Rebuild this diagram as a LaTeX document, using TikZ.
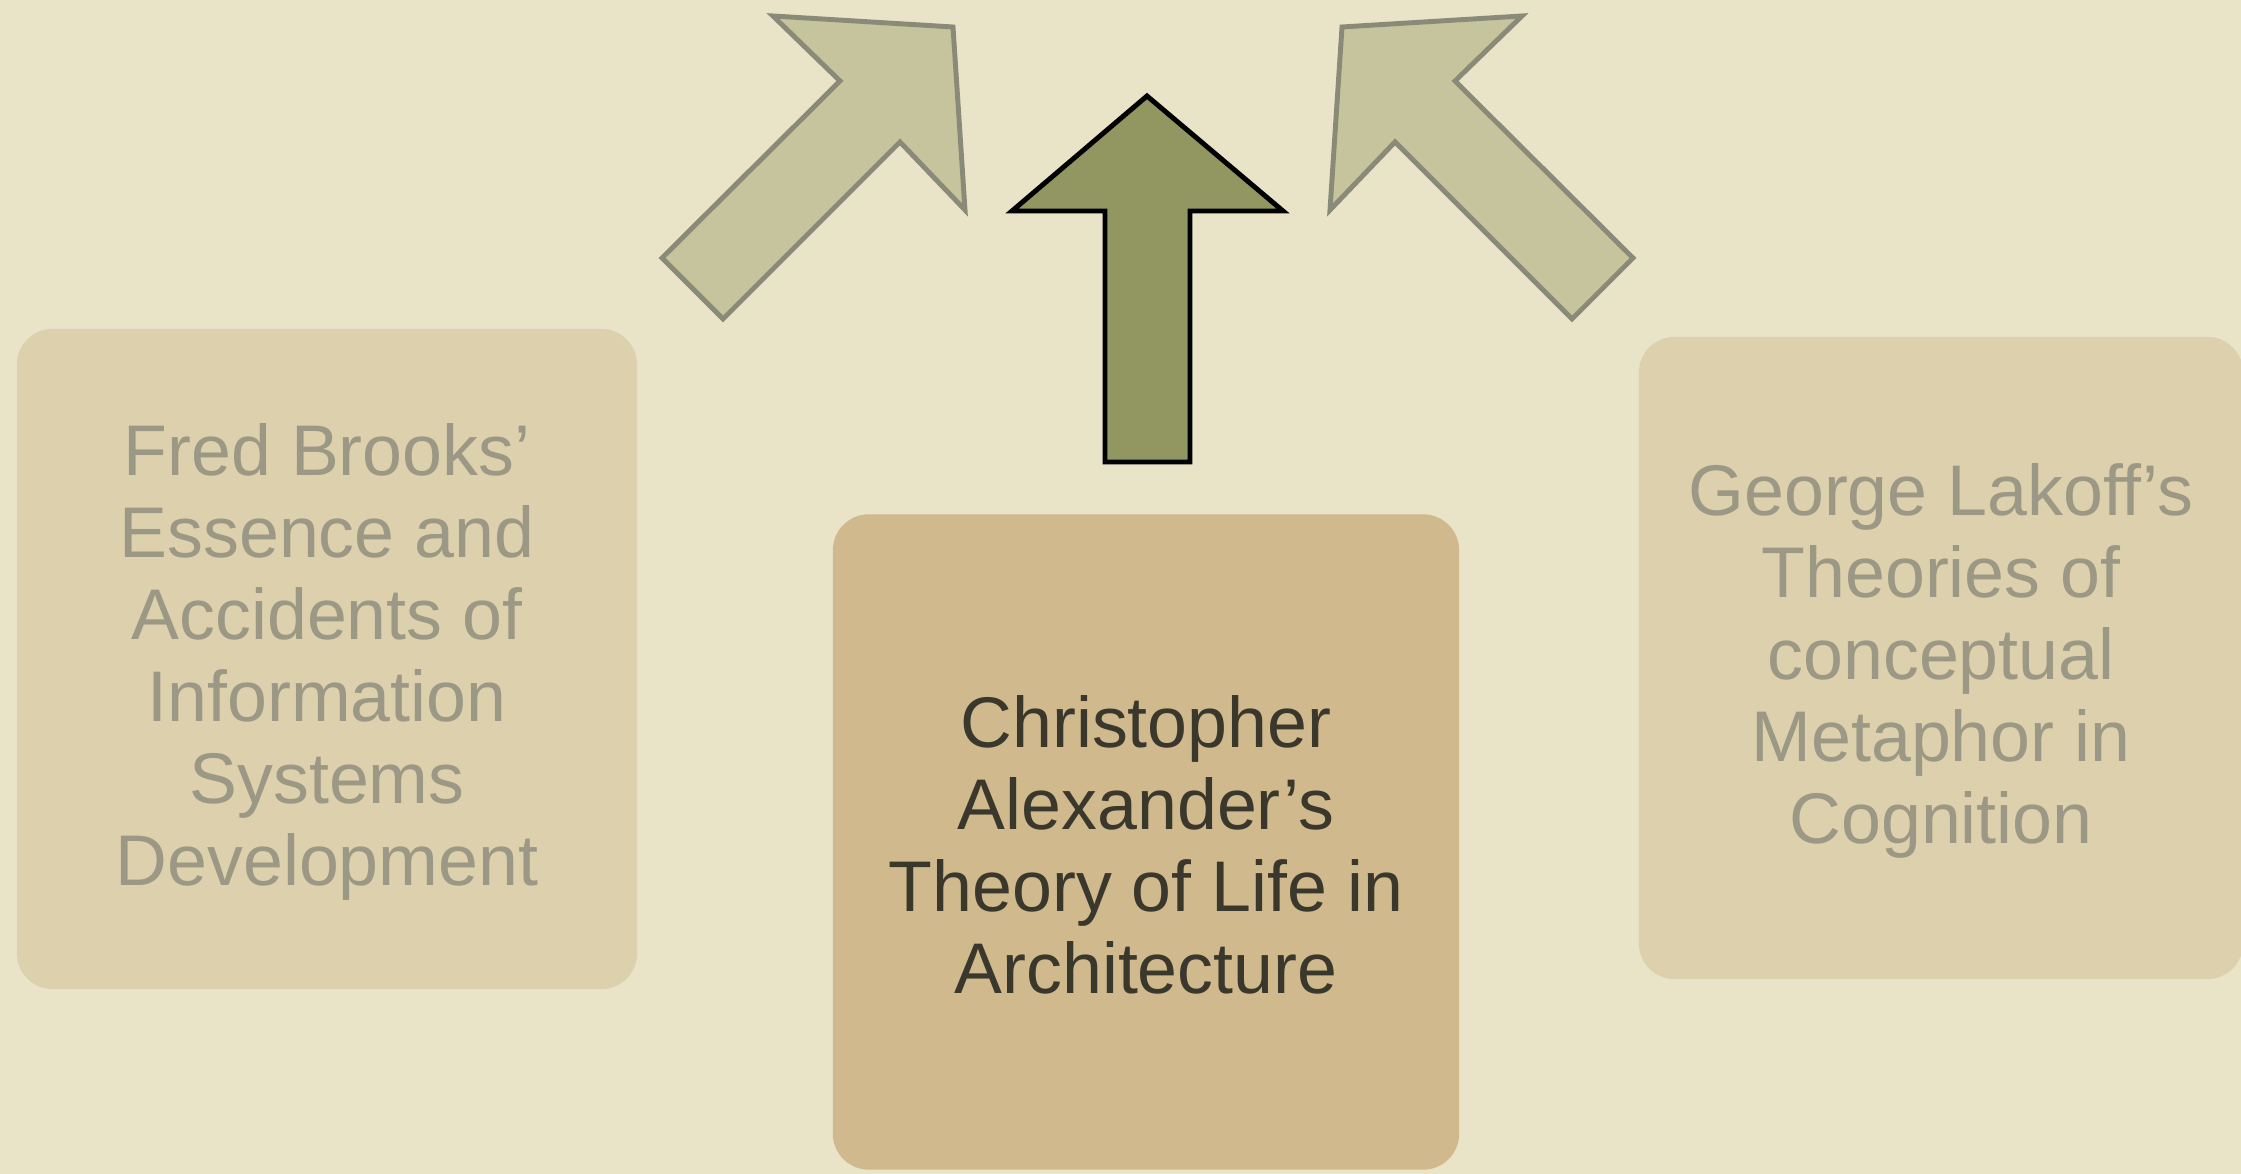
\documentclass[tikz,border=0pt]{standalone}
\usepackage{fontspec}
\setmainfont{Liberation Sans}
\usetikzlibrary{positioning}
\definecolor{paper}{RGB}{233,227,200}
\definecolor{boxpale}{RGB}{221,208,172}
\definecolor{boxtan}{RGB}{208,185,140}
\definecolor{textpale}{RGB}{155,152,133}
\definecolor{textdark}{RGB}{58,56,44}
\definecolor{arrowpale}{RGB}{197,196,156}
\definecolor{arrowedge}{RGB}{138,138,120}
\definecolor{arrowolive}{RGB}{146,150,96}

\begin{document}
\begin{tikzpicture}[x=0.01cm,y=-0.01cm,
	theory/.style={rounded corners=0.36cm,align=center,inner sep=0pt,font=\fontsize{20.4}{23.3}\selectfont},
	faded/.style={theory,fill=boxpale,text=textpale},
	focus/.style={theory,fill=boxtan,text=textdark},
	side arrow/.style={fill=arrowpale,draw=arrowedge,line width=1.4pt,line join=miter},
	main arrow/.style={fill=arrowolive,draw=black,line width=1.4pt,line join=miter}]

	\clip (0,0) rectangle (2241,1174);
	\fill[paper] (0,0) rectangle (2241,1174);

	\node[faded,minimum width=6.2cm,minimum height=6.6cm] (brooks) at (327,659)
		{\rule{0pt}{0.81em}Fred Brooks’\\Essence and\\Accidents of\\Information\\Systems\\Development};
	\node[focus,minimum width=6.26cm,minimum height=6.55cm] (alexander) at (1146,842)
		{\rule{0pt}{0.81em}Christopher\\Alexander’s\\Theory of Life in\\Architecture};
	\node[faded,minimum width=6.04cm,minimum height=6.42cm] (lakoff) at (1941,658)
		{\rule{0pt}{0.81em}George Lakoff’s\\Theories of\\conceptual\\Metaphor in\\Cognition};

	% arrows
	\draw[side arrow] (773,16) -- (953,27) -- (965,210) -- (900,142) -- (723,319) -- (662,258) -- (840,81) -- cycle;
	\draw[side arrow] (1522,16) -- (1342,27) -- (1330,210) -- (1395,142) -- (1572,319) -- (1633,258) -- (1455,81) -- cycle;
	\draw[main arrow] (1147,96) -- (1283,211) -- (1190,211) -- (1190,462) -- (1105,462) -- (1105,211) -- (1012,211) -- cycle;

\end{tikzpicture}
\end{document}
